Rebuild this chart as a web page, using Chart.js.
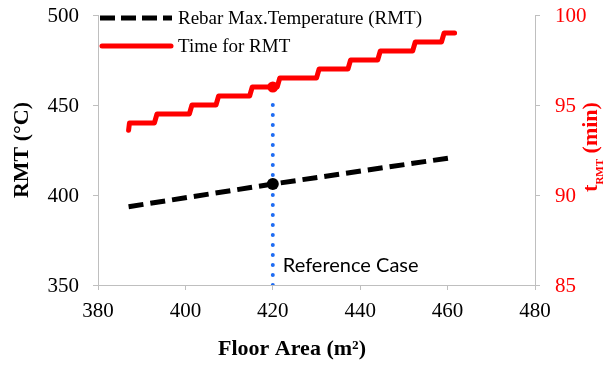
<!DOCTYPE html>
<html>
<head>
<meta charset="utf-8">
<script src="https://cdn.jsdelivr.net/npm/chart.js@4.4.0/dist/chart.umd.min.js"></script>
<style>
  html, body { margin: 0; padding: 0; background: #ffffff; }
  #wrap { width: 604px; height: 365px; position: relative; }
</style>
</head>
<body>
<div id="wrap"><canvas id="c" width="604" height="365"></canvas></div>
<script>
// ---- data ----
const rmtArea = [387, 420, 461.6];
const rmtTemp = [393.5, 406.1, 421.0];

const timeArea = [387.0, 387.2, 392.9, 393.5, 400.9, 401.5, 407.0, 407.6, 414.7, 415.3, 421.0, 421.6,
                  430.0, 430.6, 437.2, 437.8, 444.0, 444.6, 452.0, 452.6, 458.6, 459.2, 461.6];
const timeMin  = [93.6, 94.0, 94.0, 94.5, 94.5, 95.0, 95.0, 95.5, 95.5, 96.0, 96.0, 96.5,
                  96.5, 97.0, 97.0, 97.5, 97.5, 98.0, 98.0, 98.5, 98.5, 99.0, 99.0];

const refArea = 420;
const refTemp = 406.1;
const refTime = 96.0;
const refLineTimes = [85, 95.5];

const xTicks  = [380, 400, 420, 440, 460, 480];
const yTicks  = [350, 400, 450, 500];
const y1Ticks = [85, 90, 95, 100];

const seriesNames = ['Rebar Max.Temperature (RMT)', 'Time for RMT'];
const refLabel = 'Reference Case';

// ---- build ----
const pts = (xs, ys) => xs.map((x, i) => ({ x: x, y: ys[i] }));
const AXIS = '#bfbfbf';
const SERIF_CSS = '"Liberation Serif"';

const overlay = {
  id: 'overlay',
  afterDraw(chart) {
    const ctx = chart.ctx;
    const xs = chart.scales.x, ys = chart.scales.y, y1s = chart.scales.y1;
    const area = chart.chartArea;
    ctx.save();

    // tick labels, positioned by the chart's scales
    ctx.font = '21px ' + SERIF_CSS;
    ctx.textBaseline = 'alphabetic';
    ctx.fillStyle = '#000';
    ctx.textAlign = 'right';
    yTicks.forEach(v => ctx.fillText(String(v), area.left - 19, ys.getPixelForValue(v) + 7));
    ctx.textAlign = 'center';
    xTicks.forEach(v => ctx.fillText(String(v), xs.getPixelForValue(v), area.bottom + 32));
    ctx.fillStyle = '#ff0000';
    ctx.textAlign = 'left';
    y1Ticks.forEach(v => ctx.fillText(String(v), area.right + 20, y1s.getPixelForValue(v) + 7));

    // legend
    ctx.lineWidth = 5;
    ctx.strokeStyle = '#000';
    ctx.setLineDash([15, 6]);
    ctx.lineCap = 'butt';
    ctx.beginPath(); ctx.moveTo(100, 18); ctx.lineTo(172, 18); ctx.stroke();
    ctx.setLineDash([]);
    ctx.strokeStyle = '#ff0000';
    ctx.lineCap = 'round';
    ctx.beginPath(); ctx.moveTo(102, 46); ctx.lineTo(171, 46); ctx.stroke();
    ctx.fillStyle = '#000';
    ctx.font = '19px ' + SERIF_CSS;
    ctx.textAlign = 'left';
    ctx.fillText(seriesNames[0], 178, 24);
    ctx.fillText(seriesNames[1], 178, 52);

    // reference label
    ctx.font = '20px Lato';
    ctx.fillText(refLabel, xs.getPixelForValue(refArea) + 10, 272);

    // x title
    ctx.font = 'bold 22px ' + SERIF_CSS;
    ctx.textAlign = 'center';
    ctx.fillText('Floor Area (m²)', 292, 355);

    // left title
    ctx.save();
    ctx.translate(28, 150);
    ctx.rotate(-Math.PI / 2);
    ctx.textAlign = 'center';
    ctx.fillText('RMT (°C)', 0, 0);
    ctx.restore();

    // right title
    ctx.save();
    ctx.fillStyle = '#ff0000';
    ctx.translate(597, 147);
    ctx.rotate(-Math.PI / 2);
    ctx.textAlign = 'left';
    const big = 'bold 22px ' + SERIF_CSS, small = 'bold 11px ' + SERIF_CSS;
    ctx.font = big; const w1 = ctx.measureText('t').width;
    ctx.font = small; const w2 = ctx.measureText('RMT').width;
    ctx.font = big; const w3 = ctx.measureText(' (min)').width;
    let sx = -(w1 + w2 + w3) / 2;
    ctx.font = big; ctx.fillText('t', sx, 0); sx += w1;
    ctx.font = small; ctx.fillText('RMT', sx, 6); sx += w2;
    ctx.font = big; ctx.fillText(' (min)', sx, 0);
    ctx.restore();
    ctx.restore();
  }
};

const axisCommon = {
  grid: { drawOnChartArea: false, color: AXIS, tickLength: 5 },
  border: { color: AXIS, width: 1 },
  ticks: { display: false }
};

new Chart(document.getElementById('c'), {
  type: 'scatter',
  data: {
    datasets: [
      {
        label: 'ref line',
        data: pts([refArea, refArea], refLineTimes),
        yAxisID: 'y1',
        showLine: true,
        borderColor: '#1f6cf2',
        borderWidth: 4,
        borderDash: [0, 10],
        borderCapStyle: 'round',
        pointRadius: 0,
        order: 5
      },
      {
        label: seriesNames[0],
        data: pts(rmtArea, rmtTemp),
        yAxisID: 'y',
        showLine: true,
        borderColor: '#000000',
        borderWidth: 5,
        borderDash: [15, 7],
        pointRadius: 0,
        order: 3
      },
      {
        label: seriesNames[1],
        data: pts(timeArea, timeMin),
        yAxisID: 'y1',
        showLine: true,
        borderColor: '#ff0000',
        borderWidth: 5,
        borderJoinStyle: 'round',
        borderCapStyle: 'round',
        pointRadius: 0,
        order: 3
      },
      {
        label: 'ref temp',
        data: pts([refArea], [refTemp]),
        yAxisID: 'y',
        pointRadius: 6,
        pointBackgroundColor: '#000',
        pointBorderWidth: 0,
        order: 1
      },
      {
        label: 'ref time',
        data: pts([refArea], [refTime]),
        yAxisID: 'y1',
        pointRadius: 5.5,
        pointBackgroundColor: '#ff0000',
        pointBorderWidth: 0,
        order: 1
      }
    ]
  },
  options: {
    responsive: false,
    animation: false,
    events: [],
    layout: { padding: { top: 15, left: 0, right: 0, bottom: 0 } },
    plugins: { legend: { display: false }, tooltip: { enabled: false } },
    scales: {
      x: Object.assign({
        type: 'linear',
        min: xTicks[0], max: xTicks[xTicks.length - 1],
        afterBuildTicks: s => { s.ticks = xTicks.map(v => ({ value: v })); },
        afterFit: s => { s.height = 80; }
      }, axisCommon),
      y: Object.assign({
        type: 'linear', position: 'left',
        min: yTicks[0], max: yTicks[yTicks.length - 1],
        afterBuildTicks: s => { s.ticks = yTicks.map(v => ({ value: v })); },
        afterFit: s => { s.width = 98; }
      }, axisCommon),
      y1: Object.assign({
        type: 'linear', position: 'right',
        min: y1Ticks[0], max: y1Ticks[y1Ticks.length - 1],
        afterBuildTicks: s => { s.ticks = y1Ticks.map(v => ({ value: v })); },
        afterFit: s => { s.width = 69; }
      }, axisCommon)
    }
  },
  plugins: [overlay]
});
</script>
</body>
</html>
